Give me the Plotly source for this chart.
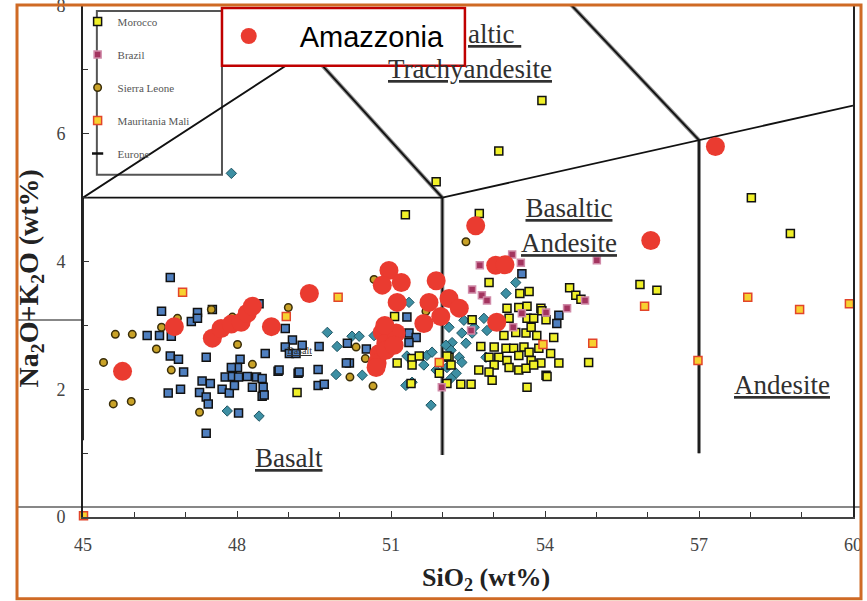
import plotly.graph_objects as go

# ---------------- data ----------------
amz_x = [45.77, 46.78, 47.52, 47.69, 47.89, 48.08, 48.20, 48.30, 48.67, 49.41, 50.96, 50.83,
         51.20, 51.12, 51.88, 51.74, 52.13, 52.33, 51.64, 51.97, 52.65, 53.04, 53.22, 53.06,
         56.06, 57.32, 50.83, 51.02, 50.90, 50.77, 50.73, 50.71, 50.90, 51.10, 50.88, 51.06]
amz_y = [2.28, 2.98, 2.80, 2.95, 3.02, 3.05, 3.19, 3.30, 2.98, 3.50, 3.86, 3.63,
         3.67, 3.36, 3.70, 3.36, 3.42, 3.27, 3.03, 3.14, 4.56, 3.94, 3.95, 3.05,
         4.33, 5.80, 2.89, 2.81, 2.72, 2.56, 2.41, 2.34, 2.61, 2.88, 3.00, 2.69]

mor_x = [52.72, 52.91, 53.51, 53.69, 54.48, 54.60, 54.70, 53.26, 53.49, 53.65, 53.92,
         52.58, 53.30, 53.65, 53.78, 54.02, 53.20, 53.43, 53.63, 53.73, 53.84, 54.17,
         52.75, 53.01, 53.24, 53.39, 53.59, 53.69, 53.88, 54.11,
         52.13, 52.91, 53.10, 53.26, 53.49, 53.73, 53.92, 54.27, 54.85,
         52.17, 53.01, 53.30, 53.49, 53.63, 53.78, 52.71, 52.91, 54.02,
         52.09, 52.36, 52.56, 52.97, 53.65,
         51.88, 51.28, 53.10, 53.94, 58.02, 58.78, 55.85, 56.18,
         51.07, 51.12, 51.41, 51.41, 51.55, 49.17, 51.39, 51.94, 52.09, 53.94, 54.04]
mor_y = [4.75, 3.67, 3.50, 3.53, 3.59, 3.47, 3.41, 3.27, 3.28, 3.30, 3.27,
         3.09, 3.11, 3.11, 3.11, 3.09, 2.84, 2.89, 2.88, 2.97, 2.84, 2.81,
         2.67, 2.66, 2.64, 2.64, 2.66, 2.58, 2.64, 2.56,
         2.50, 2.50, 2.50, 2.45, 2.53, 2.45, 2.41, 2.41, 2.42,
         2.38, 2.38, 2.34, 2.30, 2.33, 2.38, 2.30, 2.27, 2.22,
         2.09, 2.08, 2.08, 2.14, 2.03,
         5.25, 4.73, 5.73, 6.52, 5.00, 4.44, 3.64, 3.55,
         3.14, 2.41, 2.48, 2.38, 2.52, 1.95, 2.09, 2.25, 2.52, 3.23, 2.20]

blue_x = [46.70, 46.53, 47.23, 47.52, 47.11, 47.23, 46.25, 46.49, 46.72, 48.43, 48.94,
          46.70, 46.86, 47.40, 46.96, 48.06, 48.01, 47.89, 47.77, 47.91, 48.03, 48.20,
          48.38, 48.49, 48.55, 48.80, 47.32, 47.48, 47.71, 47.85, 48.30,
          46.66, 46.90, 47.27, 47.40, 47.44, 48.03, 48.49, 47.40, 47.95, 48.51, 48.53,
          49.08, 48.94, 49.02, 49.19, 49.27, 49.60, 49.15, 48.82, 49.21, 49.58, 50.19,
          50.13, 49.58, 49.70, 50.15, 50.52, 51.31, 51.35, 51.49, 51.35,
          53.55, 54.27, 54.23]
blue_y = [3.75, 3.22, 3.20, 3.25, 3.06, 3.11, 2.84, 2.84, 2.83, 3.34, 2.95,
          2.52, 2.47, 2.50, 2.27, 2.47, 2.34, 2.34, 2.19, 2.20, 2.19, 2.20,
          2.19, 2.17, 2.56, 2.28, 2.13, 2.09, 2.00, 1.94, 2.03,
          1.94, 2.00, 1.95, 1.88, 1.77, 1.63, 1.89, 1.31, 2.06, 2.03, 1.91,
          2.77, 2.66, 2.56, 2.25, 2.69, 2.67, 2.56, 2.30, 2.27, 2.31, 2.41,
          2.41, 2.06, 2.08, 2.72, 2.63, 3.13, 2.88, 2.81, 2.73,
          3.81, 3.16, 3.03]

teal_x = [49.76, 49.95, 50.24, 50.38, 50.67, 50.44, 49.93, 51.35, 51.31, 51.70, 51.80,
          51.64, 51.88, 51.29, 51.41, 51.78, 52.13, 52.19, 52.42, 52.62, 52.38, 52.07,
          52.17, 52.33, 52.38, 52.09, 52.27, 52.17, 52.85, 52.87, 53.24, 53.43, 52.58,
          52.81, 52.46, 47.81, 48.43, 47.89]
teal_y = [2.89, 2.67, 2.83, 2.83, 2.84, 2.22, 2.23, 3.36, 2.52, 2.53, 2.58,
          2.38, 2.30, 2.06, 2.11, 1.75, 2.97, 2.73, 3.08, 2.97, 2.88, 2.69,
          2.61, 2.50, 2.42, 2.34, 2.25, 2.17, 2.50, 2.92, 3.50, 3.67, 2.88,
          3.11, 2.72, 1.66, 1.58, 5.38]

sl_x = [45.40, 45.63, 45.96, 46.43, 45.59, 45.94, 46.53, 46.84, 46.72, 47.50, 48.01,
        48.30, 47.27, 49.00, 50.67, 50.32, 50.50, 50.20, 50.65, 51.68, 52.46, 47.91]
sl_y = [2.42, 2.86, 2.86, 2.63, 1.77, 1.81, 2.97, 3.11, 2.30, 3.25, 2.70,
        2.39, 1.64, 3.28, 3.72, 2.66, 2.48, 2.19, 2.05, 3.22, 4.31, 3.13]

bra_x = [53.36, 53.53, 52.73, 52.58, 52.77, 52.87, 53.55, 54.02, 54.43, 54.78, 53.38,
         55.01, 52.56, 51.99]
bra_y = [4.11, 3.98, 3.94, 3.56, 3.47, 3.39, 3.19, 3.20, 3.27, 3.39, 2.97,
         4.02, 2.92, 2.03]

mau_x = [45.01, 46.94, 48.96, 49.97, 53.96, 54.93, 55.94, 56.98, 57.95, 58.96, 59.93, 51.94]
mau_y = [0.02, 3.52, 3.14, 3.44, 2.70, 2.72, 3.30, 2.45, 3.44, 3.25, 3.34, 2.42]

# Europe: legend entry only (no values visible in the reference)
eur_x = [None]
eur_y = [None]

# TAS field boundaries
bnd_x = [45, 45, None, 45, 52, None, 45, 49.4, 52, None, 52, 52, None, 52, 60, None, 57, 53, None, 57, 57]
bnd_y = [1.2, 5, None, 5, 5, None, 5, 7.3, 5, None, 5, 0.97, None, 5, 6.44, None, 5.9, 9.3, None, 5.9, 1.0]
dbl_x = [49.4, 52, None, 52, 52, None, 57, 53, None, 57, 57]
dbl_y = [7.3, 5, None, 5, 0.97, None, 5.9, 9.3, None, 5.9, 1.0]

x_ticks = [45, 48, 51, 54, 57, 60]
y_ticks = [0, 2, 4, 6, 8]

SERIF = "Liberation Serif"

fig = go.Figure()
fig.add_trace(go.Scatter(x=dbl_x, y=dbl_y, mode="lines", line=dict(color="#8e8e8e", width=4),
                         showlegend=False, hoverinfo="skip"))
fig.add_trace(go.Scatter(x=bnd_x, y=bnd_y, mode="lines", line=dict(color="#111111", width=1.8),
                         showlegend=False, hoverinfo="skip"))

fig.add_trace(go.Scatter(x=teal_x, y=teal_y, mode="markers", showlegend=False,
                         marker=dict(symbol="diamond", size=8, color="#3d8fa3",
                                     line=dict(color="#1f5563", width=1))))
fig.add_trace(go.Scatter(x=blue_x, y=blue_y, mode="markers", showlegend=False,
                         marker=dict(symbol="square", size=8, color="#4f7fbf",
                                     line=dict(color="#111111", width=1.5))))
fig.add_trace(go.Scatter(x=mor_x, y=mor_y, mode="markers", name="Morocco", legend="legend",
                         legendgroup="a", legendrank=1,
                         marker=dict(symbol="square", size=8, color="#f0f028",
                                     line=dict(color="#111111", width=1.5))))
fig.add_trace(go.Scatter(x=bra_x, y=bra_y, mode="markers", name="Brazil", legend="legend",
                         legendgroup="b", legendrank=2,
                         marker=dict(symbol="square", size=7, color="#a3345f",
                                     line=dict(color="#d08aa8", width=1.5))))
fig.add_trace(go.Scatter(x=sl_x, y=sl_y, mode="markers", name="Sierra Leone", legend="legend",
                         legendgroup="c", legendrank=3,
                         marker=dict(symbol="circle", size=7.5, color="#c9a227",
                                     line=dict(color="#3a2e0a", width=1.5))))
fig.add_trace(go.Scatter(x=mau_x, y=mau_y, mode="markers", name="Mauritania Mali", legend="legend",
                         legendgroup="d", legendrank=4, cliponaxis=False,
                         marker=dict(symbol="square", size=8, color="#f7d130",
                                     line=dict(color="#e2452a", width=1.5))))
fig.add_trace(go.Scatter(x=eur_x, y=eur_y, mode="markers", name="Europe", legend="legend",
                         legendgroup="e", legendrank=5,
                         marker=dict(symbol="line-ew", size=8, color="#111111",
                                     line=dict(color="#111111", width=2.5))))
fig.add_trace(go.Scatter(x=amz_x, y=amz_y, mode="markers", name="Amazzonia", legend="legend2",
                         marker=dict(symbol="circle", size=19, color="#ea3b30")))

def lab(text, x, y, size=27, xanchor="center"):
    return dict(text=text, x=x, y=y, xref="x", yref="y", showarrow=False, xanchor=xanchor,
                font=dict(family=SERIF, size=size, color="#303030"))

annotations = [
    lab("<u>Basalt</u>", 49.02, 0.92),
    lab("<u>Basaltic</u><br><u>Andesite</u>", 54.47, 4.57),
    lab("<u>altic </u>", 52.46, 7.56, xanchor="left"),
    lab("<u>Trachyandesite</u>", 52.54, 7.02),
    lab("<u>Andesite</u>", 58.61, 2.06),
    lab("<u>Basalt</u>", 49.21, 2.61, size=10),
    dict(text="<b>SiO<sub>2</sub> (wt%)</b>", x=0.523, y=-0.121, xref="paper", yref="paper",
         xanchor="center", yanchor="middle",
         showarrow=False, font=dict(family=SERIF, size=26, color="#222")),
    dict(text="<b>Na<sub>2</sub>O+K<sub>2</sub>O (wt%)</b>", x=-0.0688, y=0.467, xref="paper",
         yref="paper", xanchor="center", yanchor="middle",
         showarrow=False, textangle=-90, font=dict(family=SERIF, size=28, color="#222")),
]

shapes = [
    dict(type="rect", xref="paper", yref="paper", x0=0.018, x1=0.1805, y0=0.670, y1=0.990,
         line=dict(color="#555555", width=2), fillcolor="white", layer="below"),
    dict(type="rect", xref="paper", yref="paper", x0=0.1805, x1=0.496, y0=0.883, y1=0.996,
         line=dict(color="#c00000", width=2.5), fillcolor="white", layer="above"),
    dict(type="line", xref="paper", yref="paper", x0=-0.0857, x1=1.0104, y0=0.0196, y1=0.0196,
         line=dict(color="#111111", width=1.2), layer="above"),
    dict(type="line", xref="paper", yref="paper", x0=-0.0857, x1=0, y0=0.3855, y1=0.3855,
         line=dict(color="#111111", width=1.2), layer="above"),
    dict(type="rect", xref="paper", yref="paper", x0=-0.0857, x1=1.0104, y0=-0.160, y1=1.002,
         line=dict(color="#cf6a25", width=3), layer="above"),
]

fig.update_layout(
    width=867, height=601,
    margin=dict(l=83, r=14, t=6, b=84, autoexpand=False),
    paper_bgcolor="white", plot_bgcolor="white",
    annotations=annotations, shapes=shapes,
    legend=dict(x=-0.007, y=0.998, xanchor="left", yanchor="top", bgcolor="rgba(0,0,0,0)",
                borderwidth=0, font=dict(family=SERIF, size=11, color="#555555"),
                traceorder="grouped", tracegroupgap=14, itemsizing="trace"),
    legend2=dict(x=0.149, y=0.941, xanchor="left", yanchor="middle", bgcolor="rgba(0,0,0,0)",
                 borderwidth=0, font=dict(family="Liberation Sans", size=29, color="black"),
                 itemwidth=92),
    xaxis=dict(range=[45, 60], tickmode="array", tickvals=x_ticks, ticks="inside", ticklen=6,
               tickcolor="#333", showline=True, linecolor="#444", linewidth=2, mirror=True,
               showgrid=False, zeroline=False, ticklabelstandoff=10, automargin=False,
               tickfont=dict(family=SERIF, size=18, color="#444"),
               minor=dict(dtick=1, tick0=45, ticks="inside", ticklen=5, tickcolor="#333", showgrid=False)),
    yaxis=dict(range=[0, 8], tickmode="array", tickvals=y_ticks, ticks="inside", ticklen=6,
               tickcolor="#333", showline=True, linecolor="#222", linewidth=2, mirror=True,
               showgrid=False, zeroline=False, ticklabelstandoff=12, ticklabeloverflow="allow",
               automargin=False,
               tickfont=dict(family=SERIF, size=18, color="#444"),
               minor=dict(dtick=1, tick0=0, ticks="inside", ticklen=5, tickcolor="#333", showgrid=False)),
)

fig.write_html("out.html")
